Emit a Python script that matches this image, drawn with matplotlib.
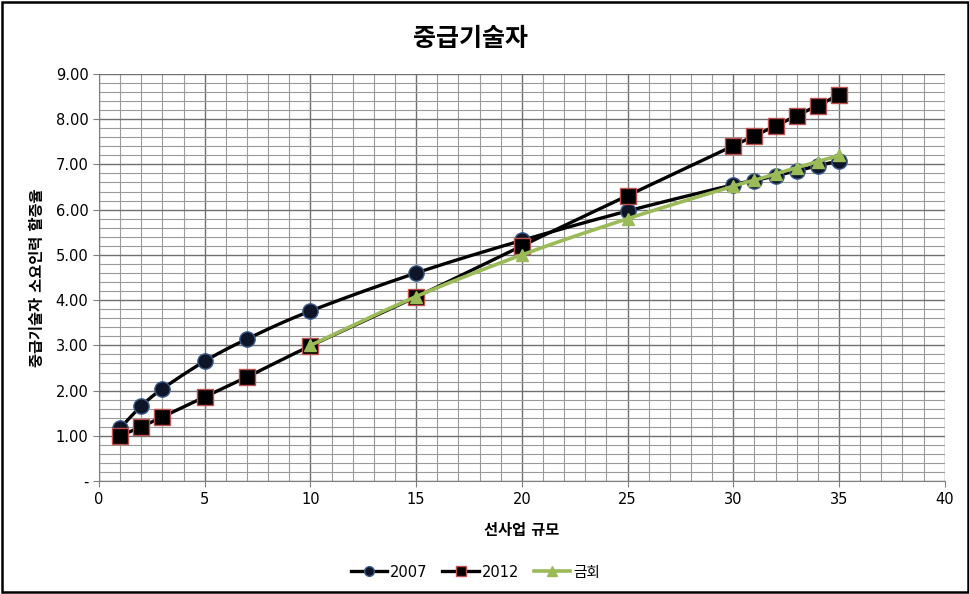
import numpy as np
import matplotlib.pyplot as plt
from matplotlib.patches import Rectangle

plt.rcParams['font.family'] = ['DejaVu Sans', 'Noto Sans CJK KR']

# data
x_2007 = [1, 2, 3, 5, 7, 10, 15, 20, 25, 30, 31, 32, 33, 34, 35]
y_2007 = [1.17, 1.66, 2.04, 2.65, 3.14, 3.76, 4.60, 5.32, 5.97, 6.55, 6.64, 6.75, 6.86, 6.97, 7.08]
x_2012 = [1, 2, 3, 5, 7, 10, 15, 20, 25, 30, 31, 32, 33, 34, 35]
y_2012 = [1.00, 1.20, 1.42, 1.86, 2.30, 2.99, 4.07, 5.20, 6.31, 7.41, 7.63, 7.85, 8.08, 8.30, 8.54]
x_now = [10, 15, 20, 25, 30, 31, 32, 33, 34, 35]
y_now = [3.00, 4.08, 5.00, 5.80, 6.52, 6.65, 6.79, 6.93, 7.06, 7.20]

yticks = [0, 1, 2, 3, 4, 5, 6, 7, 8, 9]
ytick_labels = ['-', '1.00', '2.00', '3.00', '4.00', '5.00', '6.00', '7.00', '8.00', '9.00']


def smooth(x, y, n=20):
    # Catmull-Rom style curve through the points (like Excel smoothed lines)
    x = np.asarray(x, float)
    y = np.asarray(y, float)
    px = np.concatenate([[2 * x[0] - x[1]], x, [2 * x[-1] - x[-2]]])
    py = np.concatenate([[2 * y[0] - y[1]], y, [2 * y[-1] - y[-2]]])
    xs, ys = [], []
    t = np.linspace(0, 1, n)
    for i in range(1, len(px) - 2):
        for p, out in ((px, xs), (py, ys)):
            p0, p1, p2, p3 = p[i - 1], p[i], p[i + 1], p[i + 2]
            out.extend(0.5 * ((2 * p1) + (-p0 + p2) * t
                              + (2 * p0 - 5 * p1 + 4 * p2 - p3) * t ** 2
                              + (-p0 + 3 * p1 - 3 * p2 + p3) * t ** 3))
    return xs, ys


fig = plt.figure(figsize=(9.7, 5.94), dpi=100)
ax = fig.add_axes([0.102, 0.190, 0.872, 0.6856])

ax.set_xlim(0, 40)
ax.set_ylim(0, 9)
ax.set_xticks(range(0, 41, 5))
ax.set_xticks(range(0, 41, 1), minor=True)
ax.set_yticks(yticks)
ax.set_yticklabels(ytick_labels)
ax.set_yticks(np.arange(0, 9.01, 0.2), minor=True)
ax.grid(which='major', color='#707070', linewidth=1.0)
ax.grid(which='minor', color='#9a9a9a', linewidth=0.8)
ax.set_axisbelow(True)
ax.tick_params(which='minor', length=0)
ax.tick_params(which='major', length=4, color='#808080', labelsize=10.5)
for s in ['top', 'right']:
    ax.spines[s].set_visible(False)
for s in ['left', 'bottom']:
    ax.spines[s].set_color('#808080')

sx, sy = smooth(x_2007, y_2007)
ax.plot(sx, sy, color='black', lw=2.4, zorder=3)
ax.plot(x_2007, y_2007, ls='none', marker='o', ms=11, mfc='#0d1526',
        mec='#3a5a8a', mew=1, zorder=4)

sx, sy = smooth(x_2012, y_2012)
ax.plot(sx, sy, color='black', lw=2.4, zorder=3)
ax.plot(x_2012, y_2012, ls='none', marker='s', ms=11, mfc='black',
        mec='#c0504d', mew=1, zorder=4)

sx, sy = smooth(x_now, y_now)
ax.plot(sx, sy, color='#9bbb59', lw=2.6, zorder=5)
ax.plot(x_now, y_now, ls='none', marker='^', ms=8, mfc='#9bbb59',
        mec='#9bbb59', zorder=6)

# legend handles
h1, = ax.plot([], [], color='black', lw=2.4, marker='o', ms=7, mfc='#0d1526', mec='#3a5a8a')
h2, = ax.plot([], [], color='black', lw=2.4, marker='s', ms=7, mfc='black', mec='#c0504d')
h3, = ax.plot([], [], color='#9bbb59', lw=2.6, marker='^', ms=7, mfc='#9bbb59', mec='#9bbb59')
fig.legend([h1, h2, h3], ['2007', '2012', '금회'], loc='center',
           bbox_to_anchor=(0.49, 0.037), ncol=3, frameon=False,
           fontsize=10.5, handlelength=2.5, columnspacing=1.0, handletextpad=0.2)

fig.text(0.485, 0.935, '중급기술자', ha='center', va='center',
         fontsize=18, fontweight='bold')
ax.set_xlabel('선사업 규모', fontsize=11, fontweight='bold', labelpad=12)
ax.set_ylabel('중급기술자 소요인력 할증율', fontsize=11, fontweight='bold', labelpad=8)

fig.patches.append(Rectangle((0.002, 0.003), 0.996, 0.994, transform=fig.transFigure,
                             fill=False, edgecolor='black', linewidth=1.8))

fig.savefig('out.png', dpi=100)
